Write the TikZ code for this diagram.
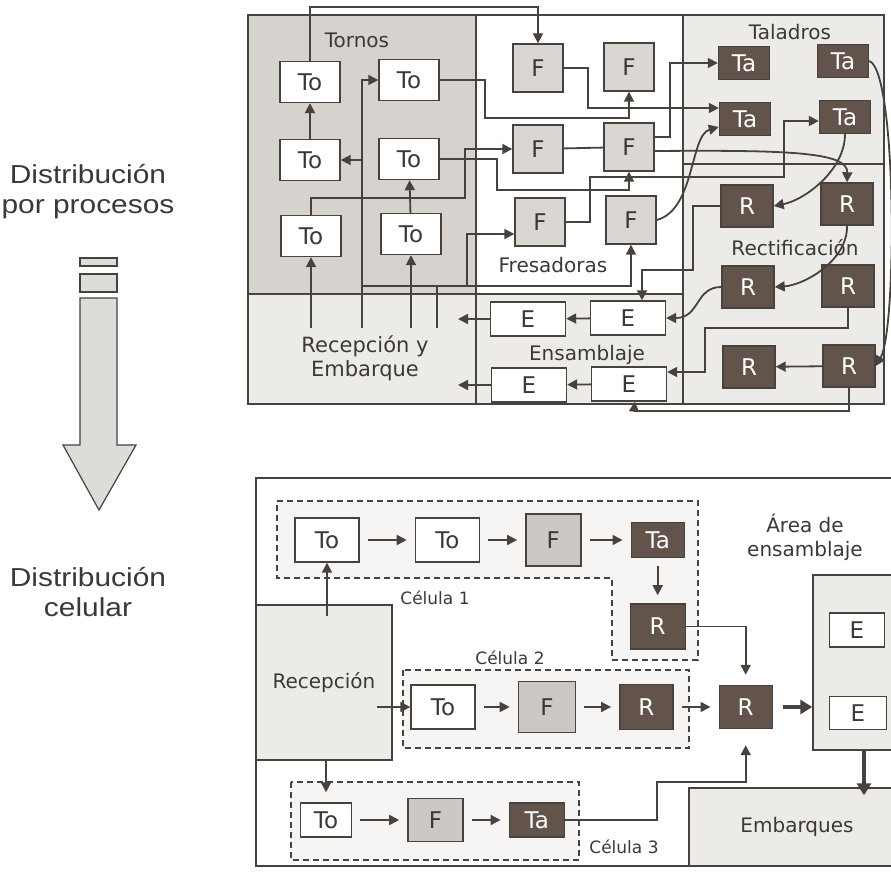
\documentclass[tikz,border=0pt]{standalone}
\usepackage{fontspec}
\setmainfont{DejaVu Sans}
\newfontfamily\sidefont[FakeStretch=1.15]{Liberation Sans}
\usetikzlibrary{arrows.meta,positioning}

\definecolor{lineclr}{RGB}{72,66,62}
\definecolor{textclr}{RGB}{60,56,54}
\definecolor{torngray}{RGB}{214,211,207}
\definecolor{areagray}{RGB}{237,235,232}
\definecolor{fgray}{RGB}{218,214,209}
\definecolor{cfgray}{RGB}{205,200,195}
\definecolor{darkbrown}{RGB}{98,84,74}
\definecolor{cellgray}{RGB}{246,245,243}
\definecolor{arrowgray}{RGB}{222,220,217}

\begin{document}
\begin{tikzpicture}[x=0.5pt, y=-0.5pt, >={Triangle[length=5pt,width=5pt]},
    color=lineclr, text=textclr, line width=0.9pt,
    mach/.style={draw=lineclr, line width=0.7pt, inner sep=0pt, font=\fontsize{11.5}{13}\selectfont},
    tobox/.style={mach, fill=white, minimum width=30pt, minimum height=20.5pt},
    fbox/.style={mach, fill=fgray, minimum width=25pt, minimum height=24pt},
    tabox/.style={mach, fill=darkbrown, text=white, minimum width=25.5pt, minimum height=16.5pt},
    rbox/.style={mach, fill=darkbrown, text=white, minimum width=26pt, minimum height=21pt},
    ebox/.style={mach, fill=white, minimum width=37.5pt, minimum height=17pt},
    zone/.style={draw=lineclr, line width=0.7pt},
    zonelabel/.style={font=\fontsize{10}{12}\selectfont, align=center},
    cell/.style={draw=lineclr, line width=0.7pt, dash pattern=on 3pt off 2pt, fill=cellgray},
    celllabel/.style={font=\fontsize{8.5}{10}\selectfont},
    sidelabel/.style={font=\sidefont\fontsize{13}{15}\selectfont, align=center},
    flow/.style={->, shorten >=4pt, shorten <=4pt},
    bigflow/.style={-{Triangle[length=6pt,width=7pt]}, line width=2pt}]
  \useasboundingbox (0,0) rectangle (891,873);
  \clip (0,0) rectangle (891,873);
  \fill[white] (0,0) rectangle (891,873);

  % left side
  \node[sidelabel] (procesos) at (88,192) {Distribución\\por procesos};
  \node[sidelabel] (celular) at (88,592) {Distribución\\celular};
  \filldraw[fill=arrowgray, line width=0.6pt] (80,258) rectangle (117,266);
  \filldraw[fill=arrowgray, line width=0.6pt] (80,274) rectangle (117,292);
  \filldraw[fill=arrowgray, line width=0.6pt] (80,298) -- (117,298) -- (117,445) -- (136,445)
    -- (99,510) -- (63,445) -- (80,445) -- cycle;

  % distribucion por procesos
  \fill[areagray] (248,15) rectangle (884,404);
  \fill[torngray] (248,15) rectangle (476,294);
  \fill[white] (476,15) rectangle (683,294);
  \draw[zone] (248,15) rectangle (884,404);
  \draw[zone] (476,15) -- (476,404);
  \draw[zone] (683,15) -- (683,404);
  \draw[zone] (248,294) -- (683,294);
  \draw[zone] (683,164) -- (884,164);

  \node[zonelabel] (tornos) at (357,40) {Tornos};
  \node[zonelabel] (fresadoras) at (553,265) {Fresadoras};
  \node[zonelabel] (taladros) at (790,32) {Taladros};
  \node[zonelabel] (rectif) at (795,248) {Rectificación};
  \node[zonelabel] (ensamb) at (587,355) {Ensamblaje};
  \node[zonelabel, font=\fontsize{10.5}{12}\selectfont] (recemb) at (365,358) {Recepción y\\Embarque};

  \node[tobox] (to11) at (310,82) {To};
  \node[tobox] (to12) at (409,80) {To};
  \node[tobox] (to21) at (310,160) {To};
  \node[tobox] (to22) at (409,159) {To};
  \node[tobox] (to31) at (311,236) {To};
  \node[tobox] (to32) at (411,234) {To};

  \node[fbox] (f11) at (538,68) {F};
  \node[fbox] (f12) at (629,67) {F};
  \node[fbox] (f21) at (538,149) {F};
  \node[fbox] (f22) at (629,147) {F};
  \node[fbox] (f31) at (540,222) {F};
  \node[fbox] (f32) at (631,220) {F};

  \node[tabox] (ta11) at (744,63) {Ta};
  \node[tabox] (ta12) at (843,61) {Ta};
  \node[tabox] (ta21) at (745,119) {Ta};
  \node[tabox] (ta22) at (845,117) {Ta};

  \node[rbox] (r11) at (747,206) {R};
  \node[rbox] (r12) at (847,204) {R};
  \node[rbox] (r21) at (748,287) {R};
  \node[rbox] (r22) at (848,286) {R};
  \node[rbox] (r31) at (749,367) {R};
  \node[rbox] (r32) at (849,366) {R};

  \node[ebox] (e11) at (528,319) {E};
  \node[ebox] (e12) at (628,318) {E};
  \node[ebox] (e21) at (529,385) {E};
  \node[ebox] (e22) at (629,384) {E};

  \coordinate (yTop) at (0,7);
  \coordinate (outX) at (458,0);
  \coordinate (recA) at (362,328);
  \coordinate (recB) at (437,328);
  \coordinate (jogA) at (465,198);
  \coordinate (jogB) at (485,118);
  \coordinate (jogC) at (588,108);
  \coordinate (jogD) at (497,190);
  \coordinate (jogE) at (670,100);
  \coordinate (jogF) at (590,177);
  \coordinate (jogG) at (784,177);
  \coordinate (jogH) at (437,286);
  \coordinate (jogI) at (467,286);
  \coordinate (jogJ) at (693,270);
  \coordinate (jogK) at (705,328);
  \coordinate (jogL) at (634,411);

  \draw[->] (to21) -- (to11);
  \draw[->] (to11.north) -- (to11.north |- yTop) -| (f11.north);
  \draw[->] (recA) |- (to12.west);
  \draw[->] (recA |- to21.east) -- (to21.east);
  \draw[->] (to31.south |- recA) -- (to31.south);
  \draw[->] (to32.south |- recA) -- (to32.south);
  \draw[->] (to32) -- (to22);
  \draw[->] (to31.north) |- (jogA) |- (f21.west);
  \draw[->] (to12.east) -| (jogB) -| (f12.south);
  \draw[->] (f11.east) -| (jogC) -- (jogC -| ta21.west);
  \draw[->] (to22.east) -| (jogD) -| (f22.south);
  \draw (f21) -- (f22);
  \draw[->] ([yshift=5pt]f22.east) -| (jogE) |- (ta11.west);
  \draw[->] ([yshift=-2pt]f22.east) .. controls (790,150) and (848,152) .. (r12.north);
  \draw[->] (f31.east) -| (jogF) -- (jogG) |- ([yshift=-2pt]ta22.west);
  \draw[->] (f32.east) .. controls (695,210) and (690,135) .. ([yshift=-4pt]ta21.west);
  \draw[->] (recB) -- (jogH) -| (f32.south);
  \draw (recA |- jogH) -- (jogH);
  \draw[->] (jogI) |- ([yshift=-6pt]f31.west);
  \draw[->] (e11.west) -- (e11.west -| outX);
  \draw[->] (e21.west) -- (e21.west -| outX);
  \draw[->] (e12) -- (e11);
  \draw[->] (e22) -- (e21);
  \draw[->] (r11.west) -| (jogJ) -| ([xshift=7pt]e12.north);
  \draw[->] (r21.west) .. controls (695,287) and (700,318) .. (e12.east);
  \draw[->] (r22.south) |- (jogK) |- ([yshift=6pt]e22.east);
  \draw[->] (r32) -- (r31);
  \draw[->] (r32.south) |- (jogL) -- ([xshift=3pt]e22.south);
  \draw[->] (ta12.east) .. controls (897,70) and (897,330) .. (r32.east);
  \draw[->] (ta22.south) .. controls (845,170) and (805,200) .. (r11.east);
  \draw[->] (r12.south) .. controls (848,260) and (805,285) .. (r21.east);

  % distribucion celular
  \draw[zone, fill=white] (256,478) rectangle (905,866);
  \node[zone, fill=areagray, inner sep=0pt, minimum width=68pt, minimum height=77.5pt,
    font=\fontsize{10}{11}\selectfont] (recep) at (324,682.5) {Recepción};
  \node[zone, fill=areagray, inner sep=0pt, minimum width=46pt, minimum height=87.5pt] (area) at (859,662.5) {};
  \node[zonelabel] (arealabel) at (805,537) {Área de\\ensamblaje};
  \node[zone, fill=areagray, inner sep=0pt, minimum width=108pt, minimum height=39pt,
    font=\fontsize{10}{11}\selectfont] (emb) at (797,827) {Embarques};

  \path[cell] (277,501) -- (698,501) -- (698,660) -- (612,660) -- (612,578) -- (277,578) -- cycle;
  \path[cell] (403,670) rectangle (689,748);
  \path[cell] (291,782) rectangle (579,860);

  \node[celllabel] (cel1) at (435,598) {Célula 1};
  \node[celllabel] (cel2) at (510,658) {Célula 2};
  \node[celllabel] (cel3) at (624,847) {Célula 3};

  \node[tobox, minimum width=32pt, minimum height=22pt] (c1to1) at (327,540) {To};
  \node[tobox, minimum width=32pt, minimum height=22pt, right=27.5pt of c1to1] (c1to2) {To};
  \node[fbox, fill=cfgray, minimum width=27.5pt, minimum height=26pt, right=22.5pt of c1to2] (c1f) {F};
  \node[tabox, minimum width=26.5pt, minimum height=17.5pt, right=24.5pt of c1f] (c1ta) {Ta};
  \node[rbox, minimum width=27.5pt, minimum height=22.5pt, below=22.5pt of c1ta] (c1r) {R};

  \node[tobox, minimum width=32pt, minimum height=22pt] (c2to) at (443,707) {To};
  \node[fbox, fill=cfgray, minimum width=28.5pt, minimum height=25.5pt, right=21pt of c2to] (c2f) {F};
  \node[rbox, minimum width=26.5pt, minimum height=22.5pt, right=21.5pt of c2f] (c2r) {R};
  \node[rbox, minimum width=26.5pt, minimum height=21.5pt, right=22.5pt of c2r] (rfin) {R};

  \node[tobox, minimum width=25.5pt, minimum height=17pt] (c3to) at (326,820) {To};
  \node[fbox, fill=cfgray, minimum width=27.5pt, minimum height=21.5pt, right=27.5pt of c3to] (c3f) {F};
  \node[tabox, minimum width=27.5pt, minimum height=17pt, right=22.5pt of c3f] (c3ta) {Ta};

  \node[ebox, minimum width=27.5pt, minimum height=17pt] (e1) at (857,630) {E};
  \node[ebox, minimum width=28.5pt, minimum height=16.5pt] (e2) at (858,713) {E};

  \coordinate (jogM) at (657,782);

  \draw[flow] (c1to1) -- (c1to2);
  \draw[flow] (c1to2) -- (c1f);
  \draw[flow] (c1f) -- (c1ta);
  \draw[flow] (c1ta) -- (c1r);
  \draw[->] ([yshift=-6pt]recep.north -| c1to1.south) -- (c1to1.south);
  \draw[->, shorten >=5pt] (c1r.east) -| (rfin.north);
  \draw[->] ([xshift=-8pt]recep.east |- c2to.west) -- (c2to.west);
  \draw[flow] (c2to) -- (c2f);
  \draw[flow] (c2f) -- (c2r);
  \draw[flow] (c2r) -- (rfin);
  \draw[bigflow, shorten <=5pt] (rfin.east) -- (rfin.east -| area.west);
  \draw[bigflow, shorten >=-4pt] ([xshift=3pt]e2.south |- area.south) -- ([xshift=3pt]e2.south |- emb.north);
  \draw[->, shorten >=5pt] (c3to.north |- recep.south) -- (c3to.north);
  \draw[flow] (c3to) -- (c3f);
  \draw[flow] (c3f) -- (c3ta);
  \draw[->, shorten >=8pt] (c3ta.east) -| (jogM) -| (rfin.south);
\end{tikzpicture}
\end{document}
